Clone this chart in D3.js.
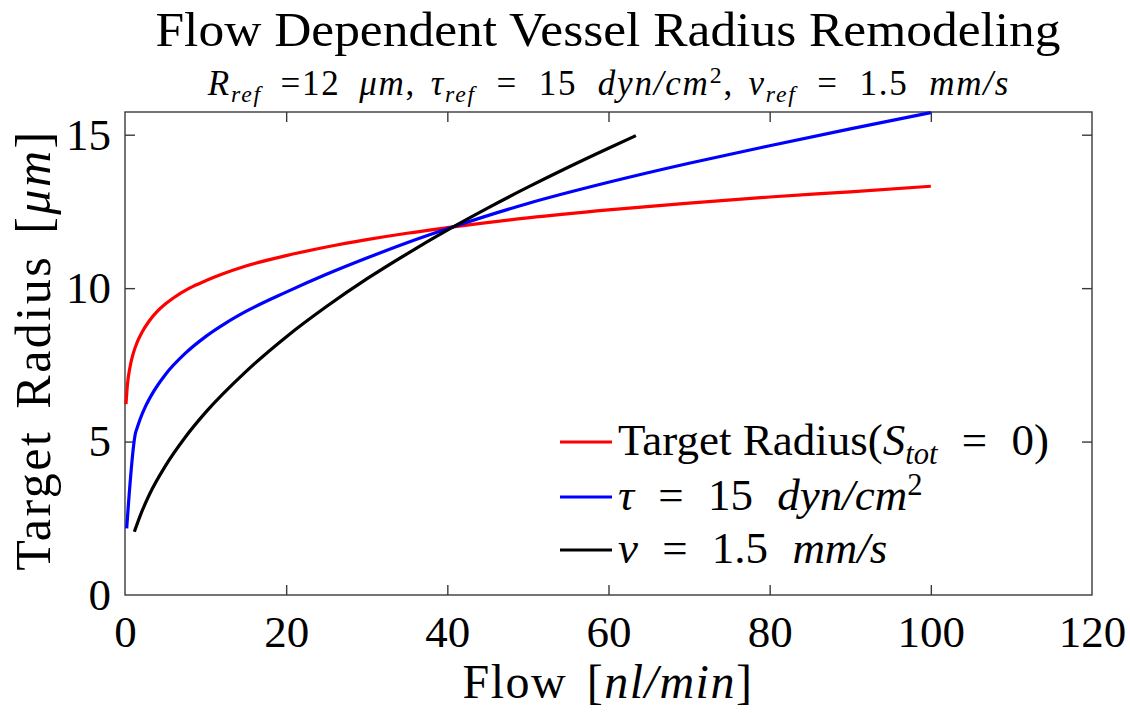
<!DOCTYPE html>
<html>
<head>
<meta charset="utf-8">
<script src="https://cdn.jsdelivr.net/npm/d3@7"></script>
<style>
  html, body { margin: 0; padding: 0; background: #fff; }
  svg { display: block; }
  text, tspan { font-family: "Liberation Serif", "Times New Roman", serif; fill: #000; }
</style>
</head>
<body>
<svg id="chart" width="1130" height="713"></svg>
<script>
// Flow [nl/min] vs. target radius [µm] for three remodeling rules
const flowRed     = [0.12, 0.3, 0.6, 1, 1.5, 2, 3, 4, 5, 6, 8, 10, 12, 15, 20, 25, 30, 35, 40, 50, 60, 70, 80, 90, 100];
const radiusRed   = [6.22, 6.85, 7.40, 7.85, 8.23, 8.51, 8.93, 9.24, 9.48, 9.68, 10.0, 10.24, 10.45, 10.72, 11.06, 11.34, 11.58, 11.79, 11.97, 12.29, 12.55, 12.77, 12.97, 13.14, 13.32];

const flowBlue    = [0.21, 1.32, 1.45, 1.86, 2.5, 3.5, 5, 7.5, 10, 12.5, 15, 20, 25, 30, 35, 40.74, 50, 60, 70, 80, 90, 100];
const radiusBlue  = [2.17, 5.30, 5.40, 5.72, 6.12, 6.61, 7.18, 7.88, 8.42, 8.86, 9.24, 9.87, 10.45, 10.98, 11.48, 12.0, 12.76, 13.45, 14.07, 14.64, 15.19, 15.72];

const flowBlack   = [1.16, 2, 3, 5, 7.5, 10, 15, 20, 25, 30, 35, 40, 45, 50, 55, 60, 63.4];
const radiusBlack = [2.06, 2.66, 3.26, 4.20, 5.15, 5.95, 7.28, 8.41, 9.40, 10.30, 11.12, 11.89, 12.61, 13.29, 13.94, 14.56, 14.97];

const xTicks = [0, 20, 40, 60, 80, 100, 120];
const yTicks = [0, 5, 10, 15];
const xDomain = [0, 120];
const yDomain = [0, 15.74];

const svg = d3.select("#chart");
const plot = { left: 125, right: 1092, top: 112, bottom: 595 };

const x = d3.scaleLinear().domain(xDomain).range([plot.left, plot.right]);
const y = d3.scaleLinear().domain(yDomain).range([plot.bottom, plot.top]);

// rich text helper: segments of {t, it, sub, sup, ws}
function richText(sel, segs, size) {
  let prev = 0;
  segs.forEach(s => {
    const small = s.sub || s.sup;
    const fs = small ? size * 0.68 : size;
    const shift = s.sub ? size * 0.2 : (s.sup ? -size * 0.34 : 0);
    sel.append("tspan")
      .attr("font-family", "Liberation Serif")
      .attr("font-style", s.it ? "italic" : "normal")
      .attr("font-size", fs)
      .attr("word-spacing", s.ws || 0)
      .attr("dy", shift - prev)
      .text(s.t);
    prev = shift;
  });
  return sel;
}

// axes box
const axisColor = "#3a3a3a";
svg.append("rect")
  .attr("x", plot.left).attr("y", plot.top)
  .attr("width", plot.right - plot.left).attr("height", plot.bottom - plot.top)
  .attr("fill", "none").attr("stroke", axisColor).attr("stroke-width", 1.4);

const tickLen = 10;
function styleAxis(g) {
  g.select(".domain").remove();
  g.selectAll(".tick line").attr("stroke", axisColor).attr("stroke-width", 1.4);
  g.selectAll(".tick text").attr("font-family", "Liberation Serif").attr("font-size", 45).attr("fill", "#262626");
}

svg.append("g").attr("transform", `translate(0,${plot.bottom})`)
  .call(d3.axisBottom(x).tickValues(xTicks).tickSizeInner(-tickLen).tickSizeOuter(0).tickPadding(20))
  .call(styleAxis)
  .call(g => g.selectAll(".tick").filter(d => d === 0 || d === 120).select("line").remove());

svg.append("g").attr("transform", `translate(0,${plot.top})`)
  .call(d3.axisTop(x).tickValues(xTicks).tickSizeInner(-tickLen).tickSizeOuter(0).tickFormat(""))
  .call(styleAxis)
  .call(g => g.selectAll(".tick").filter(d => d === 0 || d === 120).select("line").remove());

svg.append("g").attr("transform", `translate(${plot.left},0)`)
  .call(d3.axisLeft(y).tickValues(yTicks).tickSizeInner(-tickLen).tickSizeOuter(0).tickPadding(14))
  .call(styleAxis)
  .call(g => g.selectAll(".tick").filter(d => d === 0).select("line").remove());

svg.append("g").attr("transform", `translate(${plot.right},0)`)
  .call(d3.axisRight(y).tickValues(yTicks).tickSizeInner(-tickLen).tickSizeOuter(0).tickFormat(""))
  .call(styleAxis)
  .call(g => g.selectAll(".tick").filter(d => d === 0).select("line").remove());

// curves
const line = d3.line().x(d => x(d[0])).y(d => y(d[1])).curve(d3.curveMonotoneX);
const series = [
  { flow: flowRed,   radius: radiusRed,   color: "#ff0000" },
  { flow: flowBlue,  radius: radiusBlue,  color: "#0000ff" },
  { flow: flowBlack, radius: radiusBlack, color: "#000000" }
];
series.forEach(s => {
  svg.append("path")
    .datum(s.flow.map((f, i) => [f, s.radius[i]]))
    .attr("d", line)
    .attr("fill", "none")
    .attr("stroke", s.color)
    .attr("stroke-width", 3.2)
    .attr("stroke-linejoin", "round");
});

// legend
const eqWs = 13;
const legendItems = [
  { color: "#ff0000", segs: [{ t: "Target Radius(" }, { t: "S", it: 1 }, { t: "tot", it: 1, sub: 1 }, { t: " = 0)", ws: eqWs }] },
  { color: "#0000ff", segs: [{ t: "\u03C4", it: 1 }, { t: " = 15 ", ws: eqWs }, { t: "dyn/cm", it: 1 }, { t: "2", sup: 1 }] },
  { color: "#000000", segs: [{ t: "v", it: 1 }, { t: " = 1.5 ", ws: eqWs }, { t: "mm/s", it: 1 }] }
];
const legendY = [442, 497, 550];
legendItems.forEach((item, i) => {
  svg.append("line")
    .attr("x1", 560).attr("x2", 612)
    .attr("y1", legendY[i]).attr("y2", legendY[i])
    .attr("stroke", item.color).attr("stroke-width", 3.2);
  const t = svg.append("text").attr("x", 618).attr("y", legendY[i] + 13).attr("font-size", 45);
  richText(t, item.segs, 45);
});

// title and subtitle
svg.append("text")
  .attr("x", 608).attr("y", 46)
  .attr("text-anchor", "middle")
  .attr("font-size", 48)
  .attr("textLength", 905).attr("lengthAdjust", "spacingAndGlyphs")
  .text("Flow Dependent Vessel Radius Remodeling");

const sub = svg.append("text").attr("x", 609).attr("y", 95).attr("text-anchor", "middle")
  .attr("font-size", 35).attr("letter-spacing", 1.8);
richText(sub, [
  { t: "R", it: 1 }, { t: "ref", it: 1, sub: 1 }, { t: " =12 ", ws: 8 }, { t: "\u03BCm", it: 1 }, { t: ", ", ws: 4 },
  { t: "\u03C4", it: 1 }, { t: "ref", it: 1, sub: 1 }, { t: " = 15 ", ws: 10 }, { t: "dyn/cm", it: 1 }, { t: "2", sup: 1 }, { t: ", ", ws: 4 },
  { t: "v", it: 1 }, { t: "ref", it: 1, sub: 1 }, { t: " = 1.5 ", ws: 10 }, { t: "mm/s", it: 1 }
], 35);

// axis labels
const xl = svg.append("text").attr("x", 608).attr("y", 698).attr("text-anchor", "middle")
  .attr("font-size", 48).attr("letter-spacing", 1.5);
richText(xl, [{ t: "Flow [", ws: 6 }, { t: "nl/min", it: 1 }, { t: "]" }], 48);

const yl = svg.append("text")
  .attr("transform", "translate(50,350) rotate(-90)")
  .attr("text-anchor", "middle").attr("font-size", 50)
  .attr("letter-spacing", 2.5);
richText(yl, [{ t: "Target Radius [", ws: 6 }, { t: "\u03BCm", it: 1 }, { t: "]" }], 50);
</script>
</body>
</html>
